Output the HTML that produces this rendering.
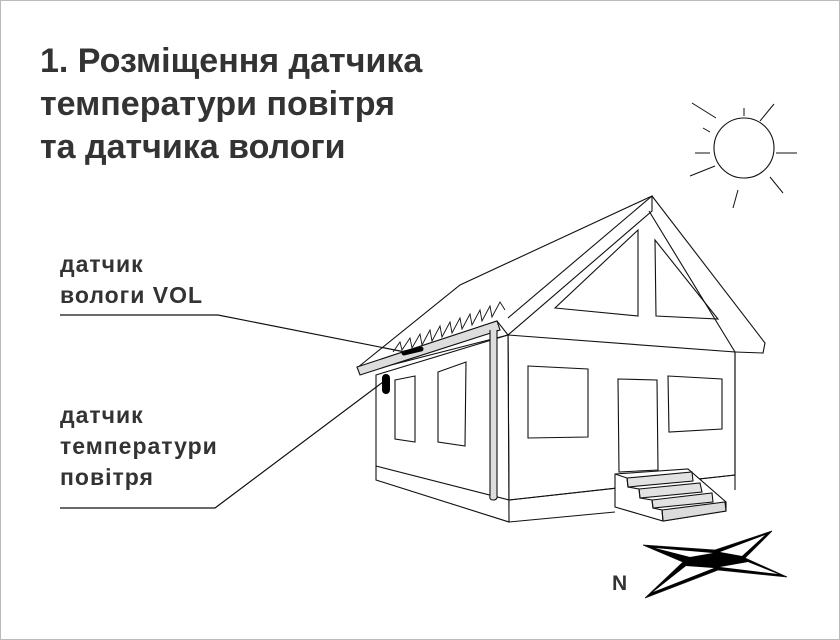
<!DOCTYPE html>
<html><head><meta charset="utf-8"><style>
body{margin:0;width:840px;height:640px;background:#fff;overflow:hidden}
.f{position:absolute;left:0;top:0;width:838px;height:638px;border:1px solid #bbb}
.t{position:absolute;left:40px;top:40px;font:bold 34px/43px "Liberation Sans","DejaVu Sans",sans-serif;color:#333}
.l{position:absolute;left:60px;font:bold 23px/31px "Liberation Sans","DejaVu Sans",sans-serif;letter-spacing:1px;color:#333}
</style></head><body>
<div class="f"></div>
<div class="t">1. Розміщення датчика<br>температури повітря<br>та датчика вологи</div>
<div class="l" style="top:249px">датчик<br>вологи VOL</div>
<div class="l" style="top:400px">датчик<br>температури<br>повітря</div>
<svg width="840" height="640" style="position:absolute;left:0;top:0" fill="none" stroke="#111" stroke-width="1.1">
<!-- sun -->
<circle cx="744" cy="148" r="30"/>
<g stroke-width="1">
<line x1="744" y1="108" x2="744" y2="116"/>
<line x1="692" y1="103" x2="716" y2="118"/>
<line x1="774" y1="104" x2="760" y2="121"/>
<line x1="695" y1="153" x2="710" y2="153"/>
<line x1="776" y1="153" x2="797" y2="153"/>
<line x1="690" y1="176" x2="715" y2="166"/>
<line x1="738" y1="190" x2="733" y2="208"/>
<line x1="770" y1="177" x2="783" y2="193"/>
<line x1="703" y1="128" x2="710" y2="132"/>
</g>
<!-- roof -->
<polygon points="652,196 460,285 357,368 497,321 508,335 652,211" fill="#fff"/>
<polyline points="652,196 765,343 763,353 735,352"/>
<polyline points="649,211 735,352"/>
<line x1="652" y1="196" x2="508" y2="318"/>
<!-- front wall -->
<polygon points="508,335 735,352 735,475 509,500" fill="#fff"/>
<line x1="508" y1="335" x2="509" y2="522"/>
<line x1="735" y1="352" x2="735" y2="490"/>
<polyline points="509,522 615,512"/>
<line x1="509" y1="500" x2="735" y2="475"/>
<polygon points="638,230 555,308 638,316"/>
<polygon points="655,240 656,316 718,319"/>
<polygon points="528,366 588,369 588,437 528,438"/>
<polygon points="618,379 657,380 658,470 619,472"/>
<polygon points="668,376 722,379 722,429 669,432"/>
<!-- left wall -->
<polygon points="376,375 508,335 509,522 376,480" fill="#fff"/>
<line x1="376" y1="466" x2="509" y2="500"/>
<polygon points="395,380 415,376 415,442 395,439"/>
<polygon points="438,372 466,362 465,446 438,442"/>
<line x1="360" y1="373" x2="508" y2="335"/>
<!-- gutter -->
<polygon points="357,367 497,321 500,330 360,375" fill="#ddd"/>
<polyline points="393,352 400,342 402,350 410,338 412,348 420,334 422,345 430,330 432,341 440,326 442,337 450,322 452,333 460,318 462,329 470,314 472,325 480,310 482,321 490,306 492,317 500,302 505,310" stroke-width="0.9"/>
<!-- downpipe -->
<path d="M490,330 L490,495 Q489,500 493,500 Q498,500 497,495 L497,330" fill="#ddd"/>
<!-- sensors -->
<line x1="404" y1="353" x2="421" y2="349" stroke="#000" stroke-width="5" stroke-linecap="round"/>
<line x1="386" y1="378" x2="386" y2="390" stroke="#000" stroke-width="8" stroke-linecap="round"/>
<!-- leaders -->
<polyline points="60,315 218,315 405,352" stroke-width="1.2"/>
<polyline points="60,508 215,508 383,382" stroke-width="1.2"/>
<!-- stairs -->
<polygon points="615,474 688,469 726,502 726,511 663,521 615,507" fill="#fff"/>
<polygon points="627,478 692,472 693,481 628,487" fill="#e2e2e2"/>
<polygon points="639,489 700,483 702,492 640,498" fill="#e2e2e2"/>
<polygon points="652,500 712,493 713,502 653,508" fill="#e2e2e2"/>
<polygon points="662,510 725,502 726,511 663,521" fill="#dcdcdc"/>
<polyline points="615,474 627,478 628,487 639,489 640,498 652,500 653,508 662,510 663,521"/>
<!-- compass -->
<polygon points="643,545 715,550 772,531 745,558 787,577 718,570 645,598 683,562" fill="#000" stroke-width="0.8"/>
<polygon points="655,548 713,553 690,557" fill="#fff" stroke="none"/>
<polygon points="720,552 765,535 742,556" fill="#fff" stroke="none"/>
<polygon points="748,562 778,574 720,567" fill="#fff" stroke="none"/>
<polygon points="653,592 686,566 714,568" fill="#fff" stroke="none"/>
</svg>
<div style="position:absolute;left:612px;top:572px;font:bold 21px 'Liberation Sans',sans-serif;color:#333">N</div>
</body></html>
